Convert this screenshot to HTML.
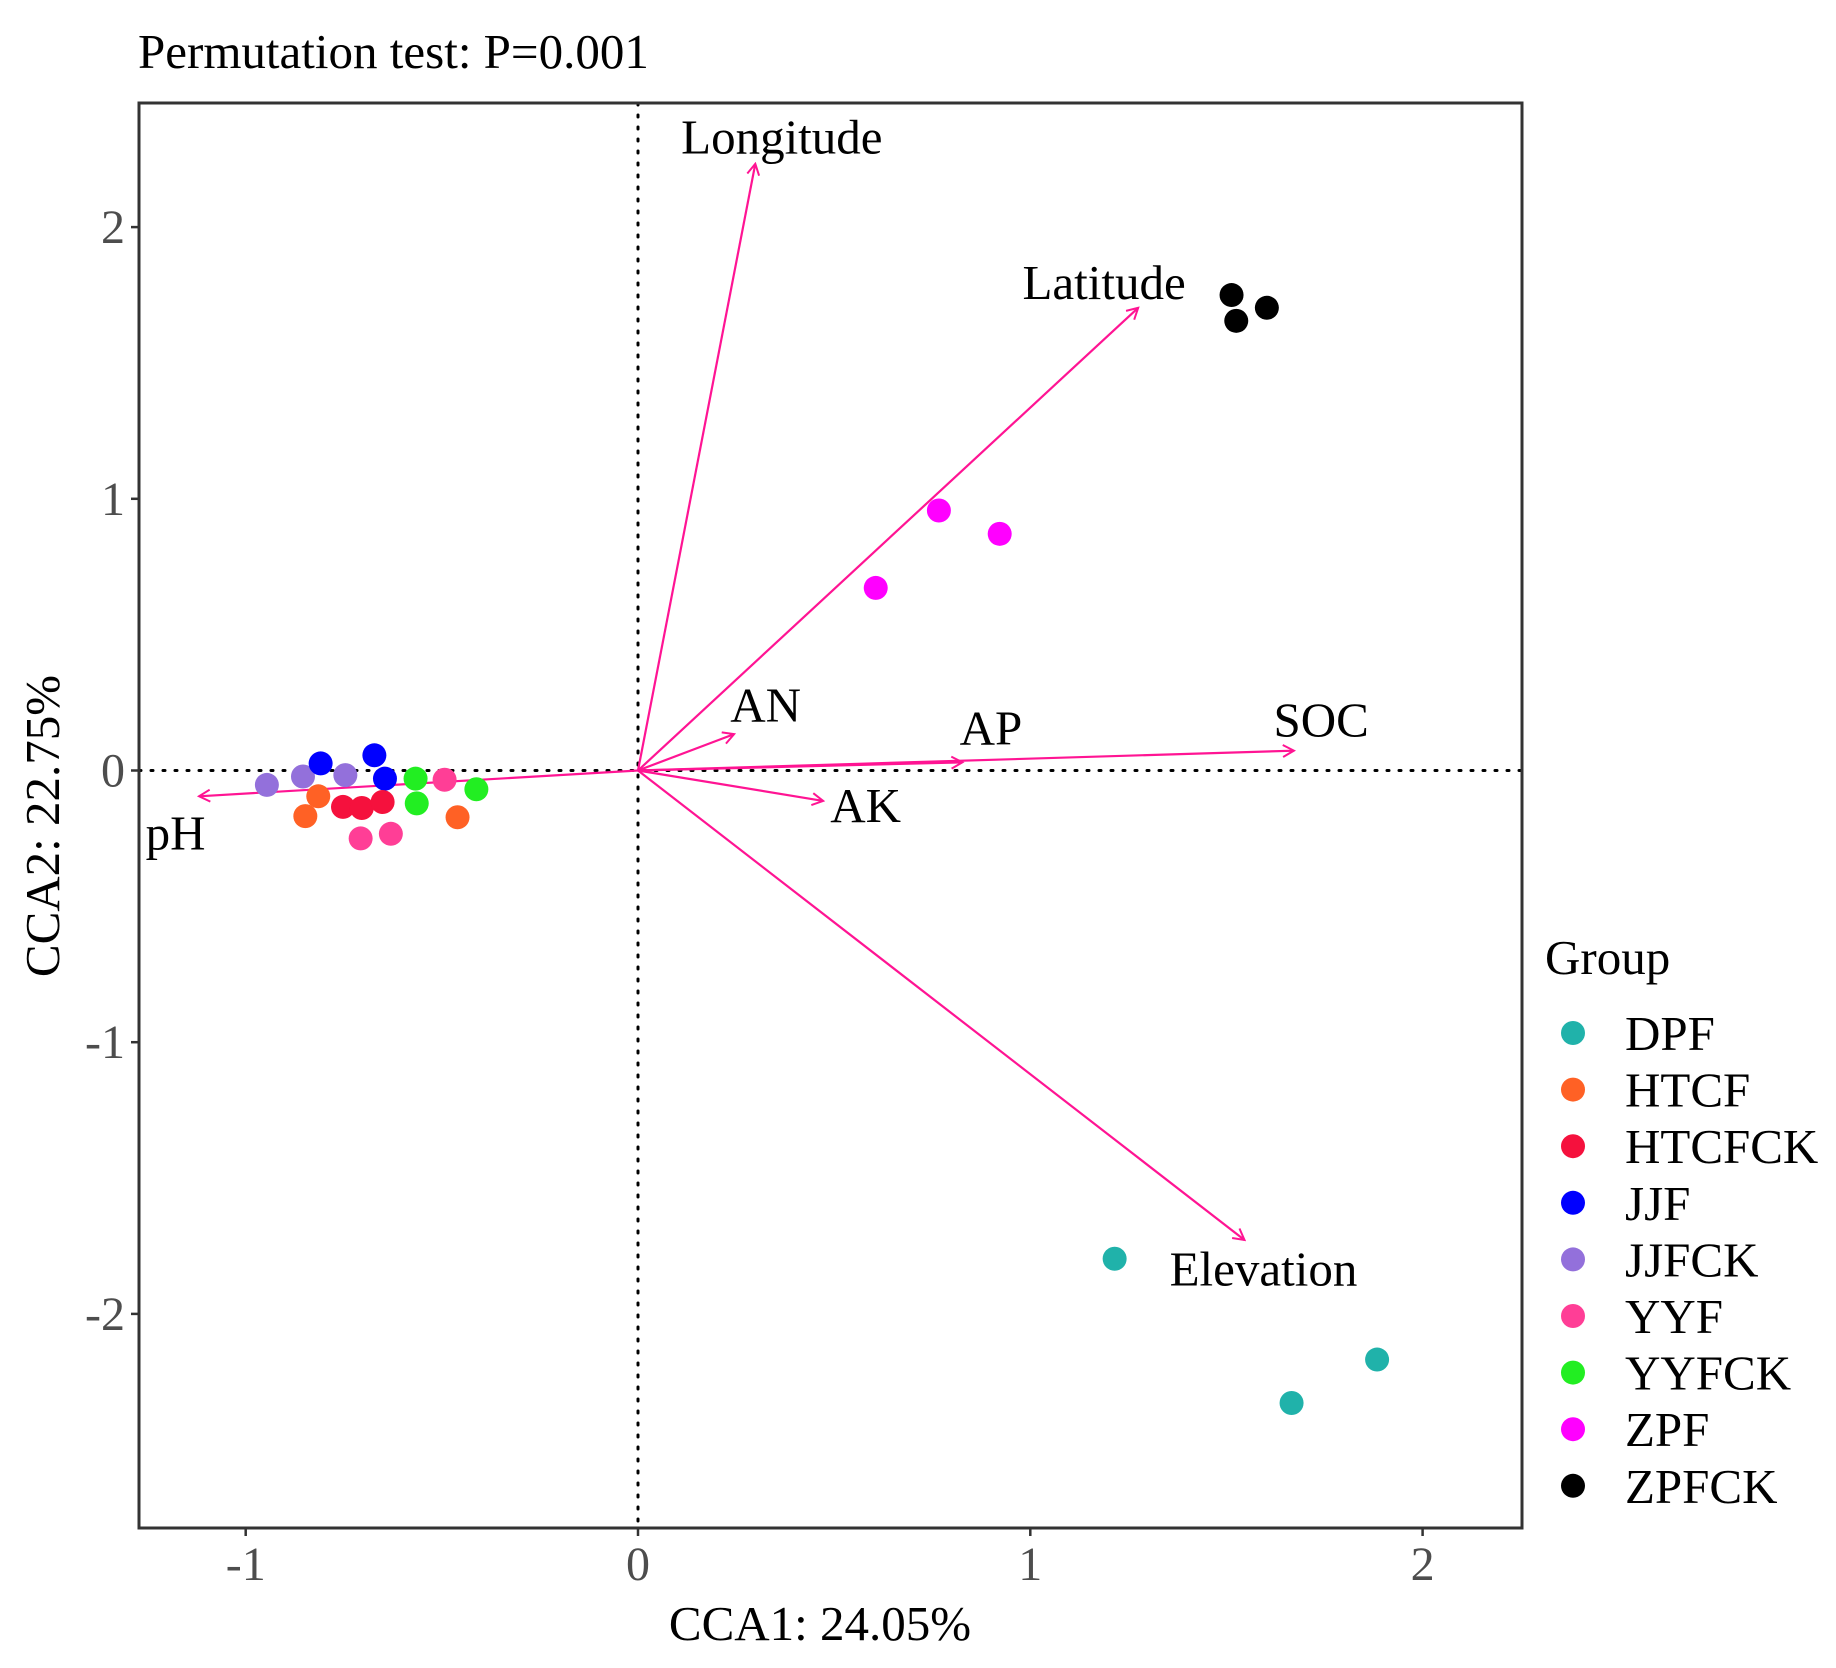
<!DOCTYPE html>
<html><head><meta charset="utf-8"><style>
html,body{margin:0;padding:0;background:#fff;}
svg{display:block;font-family:"Liberation Serif",serif;}
</style></head><body>
<svg id="chart" width="1836" height="1668" viewBox="0 0 1836 1668">
<defs><marker id="ah" markerWidth="14" markerHeight="14" refX="12" refY="7" orient="auto" markerUnits="userSpaceOnUse"><path d="M1,1 L12,7 L1,13" fill="none" stroke="#FF1493" stroke-width="2"/></marker></defs>
<text x="138" y="68" font-size="49" fill="#000">Permutation test: P=0.001</text>
<g id="plot"></g>
<g id="legend"></g>
</svg>
<script>
const xTicks=[-1,0,1,2];
const yTicks=[-2,-1,0,1,2];
const groups=["DPF","HTCF","HTCFCK","JJF","JJFCK","YYF","YYFCK","ZPF","ZPFCK"];
const colors=["#20B2AA","#FF6125","#F5113D","#0000FF","#9370DB","#FF3E96","#22EE22","#FF00FF","#000000"];
const ptGroup=["ZPFCK","ZPFCK","ZPFCK","ZPF","ZPF","ZPF","DPF","DPF","DPF","JJFCK","JJFCK","JJFCK","JJF","JJF","JJF","HTCF","HTCF","HTCF","HTCFCK","HTCFCK","HTCFCK","YYF","YYF","YYF","YYFCK","YYFCK","YYFCK"];
const ptX=[1.513,1.525,1.603,0.767,0.922,0.606,1.215,1.884,1.666,-0.946,-0.854,-0.746,-0.809,-0.672,-0.645,-0.815,-0.848,-0.46,-0.752,-0.704,-0.651,-0.707,-0.63,-0.493,-0.567,-0.564,-0.412];
const ptY=[1.75,1.655,1.703,0.957,0.871,0.672,-1.797,-2.168,-2.328,-0.053,-0.022,-0.017,0.026,0.056,-0.03,-0.095,-0.168,-0.172,-0.134,-0.138,-0.116,-0.25,-0.233,-0.034,-0.03,-0.121,-0.069];
const envNames=["Longitude","Latitude","AN","AP","SOC","AK","Elevation","pH"];
const envX=[0.299,1.275,0.245,0.827,1.672,0.472,1.546,-1.119];
const envY=[2.233,1.703,0.134,0.030,0.073,-0.112,-1.728,-0.095];
const labX=[0.11,0.98,0.235,0.82,1.62,0.49,1.355,-1.255];
const labY=[2.27,1.735,0.18,0.095,0.125,-0.19,-1.895,-0.29];

const NS="http://www.w3.org/2000/svg";
const L=139,R=1522,T=103,B=1528;
const xs=v=>638+v*392.3;
const ys=v=>770.5-v*271.7;
const plot=document.getElementById('plot');
const leg=document.getElementById('legend');
function mk(tag,attrs,parent){const e=document.createElementNS(NS,tag);for(const k in attrs)e.setAttribute(k,attrs[k]);parent.appendChild(e);return e;}

let ln=mk('line',{x1:xs(0),x2:xs(0),y1:T,y2:B,stroke:'#000','stroke-width':3,'stroke-dasharray':'2 10','stroke-linecap':'round'},plot);


ln=mk('line',{x1:L,x2:R,y1:ys(0),y2:ys(0),stroke:'#000','stroke-width':3,'stroke-dasharray':'2 10','stroke-linecap':'round'},plot);



envNames.forEach((n,i)=>{
 const a=mk('line',{x1:xs(0),y1:ys(0),x2:xs(envX[i]),y2:ys(envY[i]),stroke:'#FF1493','stroke-width':2.2,'marker-end':'url(#ah)'},plot);
 
 
 const t=mk('text',{x:xs(labX[i]),y:ys(labY[i]),'font-size':49,fill:'#000'},plot);
 t.textContent=n;
 
 
});

ptX.forEach((x,i)=>{
 const c=mk('circle',{cx:xs(x),cy:ys(ptY[i]),r:12,fill:colors[groups.indexOf(ptGroup[i])]},plot);
 
 
});

const fr=mk('rect',{x:L,y:T,width:R-L,height:B-T,fill:'none',stroke:'#333','stroke-width':3},plot);



xTicks.forEach(v=>{
 mk('line',{x1:xs(v),x2:xs(v),y1:B,y2:B+8,stroke:'#333','stroke-width':2.5},plot);
 const t=mk('text',{x:xs(v),y:B+52,'font-size':48,fill:'#4d4d4d','text-anchor':'middle'},plot);
 t.textContent=v;
 
 
});
yTicks.forEach(v=>{
 mk('line',{x1:L-8,x2:L,y1:ys(v),y2:ys(v),stroke:'#333','stroke-width':2.5},plot);
 const t=mk('text',{x:L-14,y:ys(v)+16,'font-size':48,fill:'#4d4d4d','text-anchor':'end'},plot);
 t.textContent=v;
 
 
});
let t=mk('text',{x:820,y:1640,'font-size':49,fill:'#000','text-anchor':'middle'},plot);
t.textContent='CCA1: 24.05%';


t=mk('text',{x:0,y:0,'font-size':49,fill:'#000','text-anchor':'middle',transform:'translate(59,826) rotate(-90)'},plot);
t.textContent='CCA2: 22.75%';



t=mk('text',{x:1545,y:974,'font-size':49,fill:'#000'},leg);
t.textContent='Group';


groups.forEach((g,i)=>{
 const y=1033+i*56.6;
 const c=mk('circle',{cx:1573,cy:y,r:12,fill:colors[i]},leg);
 
 
 const tt=mk('text',{x:1625,y:y+17,'font-size':49,fill:'#000'},leg);
 tt.textContent=g;
 
 
});
</script>
</body></html>
